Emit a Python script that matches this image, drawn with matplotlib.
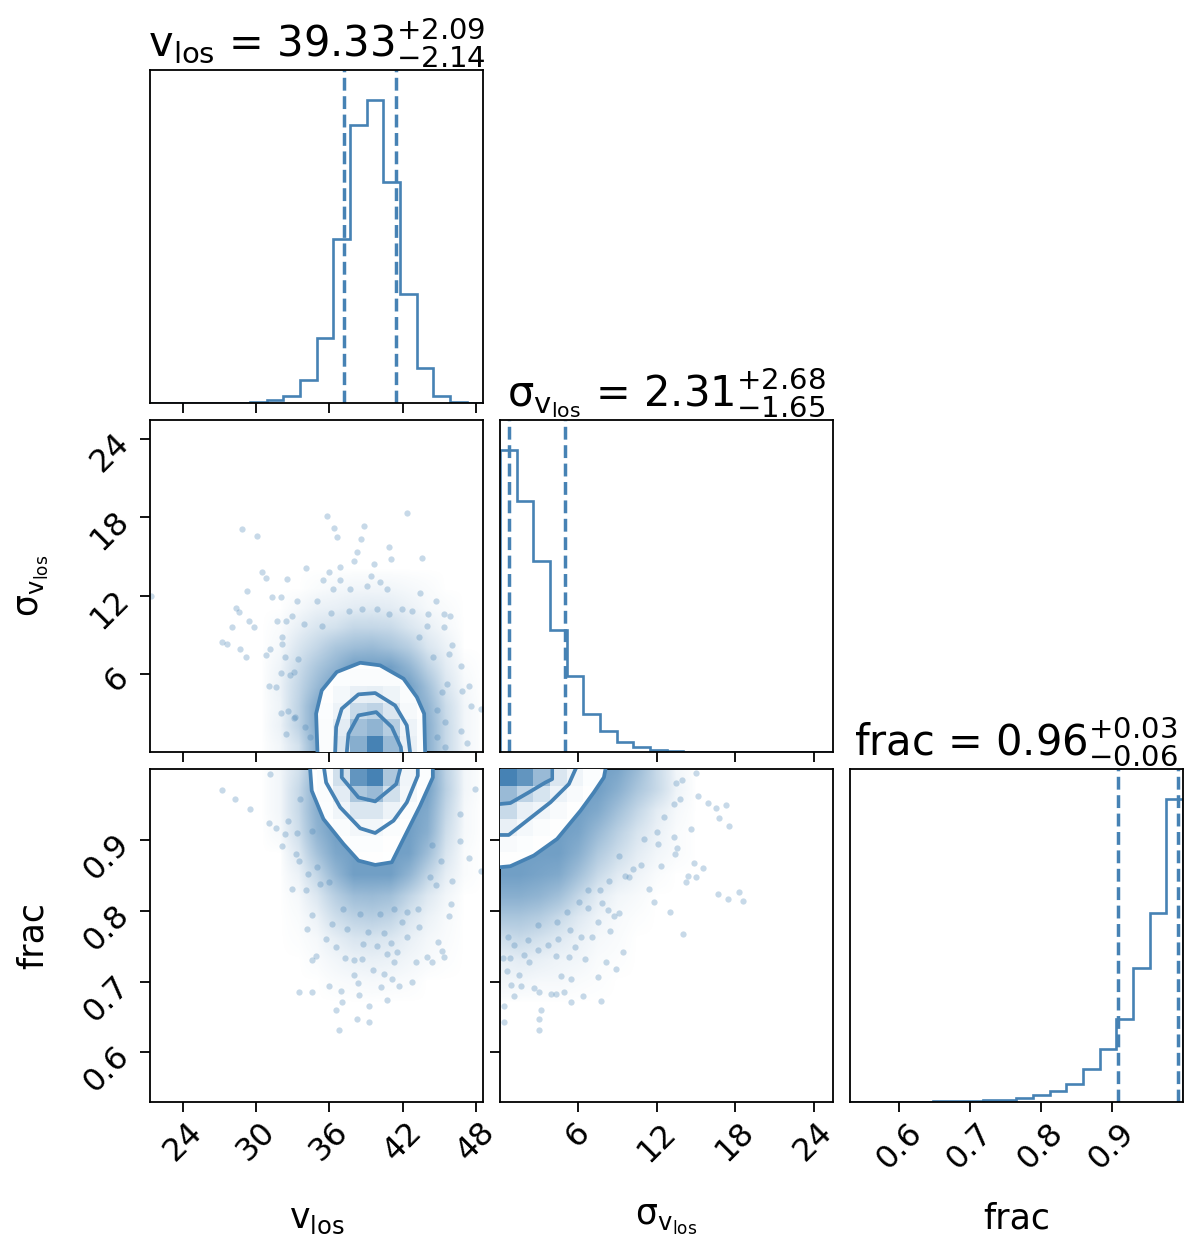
import numpy as np
import matplotlib
matplotlib.use("Agg")
import matplotlib.pyplot as plt
from matplotlib.colors import LinearSegmentedColormap, PowerNorm

color = "steelblue"

# limits of the three parameters
v_range = [21.3, 48.6]
sig_range = [0.0, 25.5]
frac_range = [0.53, 1.0]

v_ticks = [24, 30, 36, 42, 48]
sig_ticks = [6, 12, 18, 24]
frac_ticks = [0.6, 0.7, 0.8, 0.9]

v_label = r"$\mathrm{v_{los}}$"
sig_label = r"$\mathrm{\sigma_{v_{los}}}$"
frac_label = "frac"

v_title = r"$\mathrm{v_{los}}$ = ${39.33}_{-2.14}^{+2.09}$"
sig_title = r"$\mathrm{\sigma_{v_{los}}}$ = ${2.31}_{-1.65}^{+2.68}$"
frac_title = r"frac = ${0.96}_{-0.06}^{+0.03}$"

v_quantiles = [37.19, 41.42]
sig_quantiles = [0.66, 4.99]
frac_quantiles = [0.908, 0.9925]

# 1d histograms, 20 bins each
v_hist = [0, 0, 0.5, 0.5, 1, 1, 2, 8, 20, 68, 196, 492, 834, 908, 663, 326, 104, 22, 3, 1]
sig_hist = [908, 754, 575, 368, 228, 115, 65, 32, 15, 7, 4, 2, 2, 1, 1, 0.5, 0.5, 0, 0, 0]
frac_hist = [0, 0, 0, 1, 1, 2, 3, 4, 5, 6, 11, 22, 32, 53, 100, 158, 250, 402, 567, 908]

# central 2d histogram cells
vs_cells = [[0.03, 0.2, 0.65, 1.0, 0.55, 0.12, 0.02],
            [0.03, 0.15, 0.5, 0.6, 0.4, 0.1, 0.02],
            [0.02, 0.1, 0.3, 0.35, 0.2, 0.05, 0.01],
            [0.01, 0.06, 0.12, 0.13, 0.09, 0.03, 0.01],
            [0.0, 0.02, 0.03, 0.03, 0.03, 0.01, 0.0],
            [0.0, 0.0, 0.01, 0.01, 0.01, 0.0, 0.0]]
vf_cells = [[0.0, 0.0, 0.01, 0.01, 0.005, 0.0, 0.0],
            [0.0, 0.01, 0.02, 0.02, 0.01, 0.0, 0.0],
            [0.01, 0.03, 0.07, 0.07, 0.03, 0.01, 0.0],
            [0.02, 0.08, 0.2, 0.2, 0.1, 0.03, 0.01],
            [0.03, 0.15, 0.45, 0.55, 0.25, 0.07, 0.01],
            [0.03, 0.25, 0.85, 1.0, 0.45, 0.08, 0.02]]
sf_cells = [[0.01, 0.01, 0.0, 0.0, 0.0, 0.0],
            [0.04, 0.02, 0.01, 0.0, 0.0, 0.0],
            [0.12, 0.06, 0.03, 0.01, 0.0, 0.0],
            [0.3, 0.12, 0.08, 0.04, 0.01, 0.0],
            [0.55, 0.35, 0.22, 0.1, 0.04, 0.01],
            [1.0, 0.85, 0.55, 0.2, 0.08, 0.02]]

# density of the point cloud, read on coarse grids
cloud_v = [30.5, 32, 33.5, 35, 36.5, 38, 39.5, 41, 42.5, 44, 45.5, 47, 48.5]
cloud_sig = [0.5, 2, 3.5, 5, 6.5, 8, 9.5, 11, 12.5, 14]
cloud_frac = [0.67, 0.70, 0.73, 0.76, 0.79, 0.82, 0.85, 0.88, 0.91, 0.94, 0.97, 1.0]
cloud_sig2 = [0, 1.5, 3, 4.5, 6, 7.5, 9, 10.5, 12, 13.5, 15]

vs_cloud = [[0.0, 0.03, 0.15, 0.55, 0.7, 0.7, 0.7, 0.7, 0.7, 0.55, 0.2, 0.03, 0.0],
            [0.0, 0.05, 0.25, 0.6, 0.7, 0.7, 0.7, 0.7, 0.7, 0.55, 0.2, 0.03, 0.0],
            [0.0, 0.04, 0.25, 0.6, 0.7, 0.7, 0.7, 0.7, 0.7, 0.5, 0.18, 0.03, 0.0],
            [0.0, 0.05, 0.22, 0.45, 0.7, 0.7, 0.7, 0.7, 0.7, 0.4, 0.12, 0.02, 0.0],
            [0.0, 0.04, 0.18, 0.35, 0.5, 0.7, 0.7, 0.7, 0.5, 0.25, 0.08, 0.01, 0.0],
            [0.0, 0.02, 0.12, 0.22, 0.35, 0.42, 0.45, 0.38, 0.28, 0.12, 0.05, 0.0, 0.0],
            [0.0, 0.01, 0.06, 0.12, 0.15, 0.22, 0.22, 0.2, 0.12, 0.06, 0.02, 0.0, 0.0],
            [0.0, 0.0, 0.02, 0.05, 0.06, 0.08, 0.09, 0.08, 0.05, 0.02, 0.01, 0.0, 0.0],
            [0.0, 0.0, 0.0, 0.01, 0.02, 0.03, 0.03, 0.03, 0.02, 0.01, 0.0, 0.0, 0.0],
            [0.0, 0.0, 0.0, 0.0, 0.0, 0.0, 0.0, 0.0, 0.0, 0.0, 0.0, 0.0, 0.0]]
vf_cloud = [[0.0, 0.0, 0.0, 0.0, 0.0, 0.0, 0.0, 0.0, 0.0, 0.0, 0.0, 0.0, 0.0],
            [0.0, 0.0, 0.0, 0.0, 0.01, 0.015, 0.02, 0.015, 0.01, 0.0, 0.0, 0.0, 0.0],
            [0.0, 0.0, 0.0, 0.01, 0.03, 0.05, 0.06, 0.05, 0.03, 0.015, 0.005, 0.0, 0.0],
            [0.0, 0.0, 0.005, 0.02, 0.07, 0.12, 0.13, 0.11, 0.06, 0.025, 0.01, 0.0, 0.0],
            [0.0, 0.0, 0.01, 0.05, 0.17, 0.25, 0.28, 0.24, 0.12, 0.05, 0.015, 0.0, 0.0],
            [0.0, 0.0, 0.02, 0.11, 0.28, 0.42, 0.44, 0.4, 0.24, 0.1, 0.03, 0.0, 0.0],
            [0.0, 0.0, 0.05, 0.22, 0.48, 0.7, 0.7, 0.7, 0.5, 0.24, 0.07, 0.01, 0.0],
            [0.0, 0.0, 0.1, 0.38, 0.62, 0.7, 0.7, 0.7, 0.68, 0.42, 0.12, 0.01, 0.0],
            [0.0, 0.02, 0.17, 0.5, 0.7, 0.7, 0.7, 0.7, 0.7, 0.55, 0.17, 0.02, 0.0],
            [0.0, 0.03, 0.2, 0.55, 0.7, 0.7, 0.7, 0.7, 0.7, 0.6, 0.22, 0.02, 0.0],
            [0.0, 0.03, 0.2, 0.55, 0.7, 0.7, 0.7, 0.7, 0.7, 0.68, 0.27, 0.03, 0.0],
            [0.0, 0.03, 0.15, 0.45, 0.7, 0.7, 0.7, 0.7, 0.7, 0.7, 0.25, 0.03, 0.0]]
sf_cloud = [[0.0, 0.0, 0.0, 0.0, 0.0, 0.0, 0.0, 0.0, 0.0, 0.0, 0.0],
            [0.03, 0.03, 0.02, 0.02, 0.01, 0.005, 0.0, 0.0, 0.0, 0.0, 0.0],
            [0.06, 0.08, 0.06, 0.04, 0.03, 0.01, 0.005, 0.0, 0.0, 0.0, 0.0],
            [0.17, 0.2, 0.15, 0.1, 0.05, 0.02, 0.01, 0.0, 0.0, 0.0, 0.0],
            [0.35, 0.35, 0.3, 0.2, 0.1, 0.04, 0.015, 0.005, 0.0, 0.0, 0.0],
            [0.55, 0.55, 0.5, 0.4, 0.22, 0.08, 0.03, 0.015, 0.0, 0.0, 0.0],
            [0.7, 0.7, 0.65, 0.6, 0.4, 0.2, 0.09, 0.04, 0.01, 0.0, 0.0],
            [0.7, 0.7, 0.7, 0.7, 0.55, 0.32, 0.18, 0.08, 0.03, 0.01, 0.0],
            [0.7, 0.7, 0.7, 0.7, 0.65, 0.45, 0.27, 0.13, 0.05, 0.01, 0.0],
            [0.7, 0.7, 0.7, 0.7, 0.7, 0.6, 0.4, 0.22, 0.08, 0.02, 0.0],
            [0.7, 0.7, 0.7, 0.7, 0.7, 0.7, 0.55, 0.35, 0.2, 0.04, 0.0],
            [0.7, 0.7, 0.7, 0.7, 0.7, 0.7, 0.65, 0.45, 0.2, 0.03, 0.0]]

# contour lines
vs_outer_x = [35.02, 34.91, 35.37, 36.6, 38.52, 40.15, 42.07, 43.16, 43.76, 43.84]
vs_outer_y = [0, 2.97, 4.75, 6.16, 6.87, 6.67, 5.65, 4.24, 2.97, 0]
vs_mid_x = [36.47, 36.55, 37.01, 38.38, 39.75, 41.38, 42.34, 42.61]
vs_mid_y = [0, 1.94, 3.35, 4.45, 4.55, 3.6, 2.07, 0]
vs_in_x = [37.42, 37.56, 38.38, 39.83, 41.11, 41.85, 41.9]
vs_in_y = [0, 1.43, 2.84, 3.09, 1.94, 0.41, 0]

vf_outer_x = [34.42, 34.55, 35.51, 37.15, 38.38, 39.75, 41.11, 42.2, 43.43, 44.47, 44.47]
vf_outer_y = [1.0, 0.9695, 0.9295, 0.8943, 0.8708, 0.8647, 0.8685, 0.9061, 0.9483, 0.9882, 1.0]
vf_mid_x = [35.57, 35.73, 36.88, 38.52, 39.75, 41.25, 42.34, 43.24, 43.24]
vf_mid_y = [1.0, 0.981, 0.946, 0.9164, 0.9098, 0.9272, 0.953, 0.9906, 1.0]
vf_in_x = [37.01, 37.01, 38.38, 39.75, 41.47, 41.8]
vf_in_y = [1.0, 0.9882, 0.96, 0.9544, 0.9788, 1.0]

sf_outer_x = [0, 0.8, 2.6, 4.38, 6.17, 7.19, 7.96, 8.08]
sf_outer_y = [0.8615, 0.8629, 0.878, 0.9014, 0.9413, 0.9671, 0.9883, 1.0]
sf_mid_x = [0, 0.68, 2.08, 3.87, 5.28, 5.79]
sf_mid_y = [0.907, 0.907, 0.9273, 0.9531, 0.9789, 1.0]
sf_in_x = [0, 0.8, 2.21, 3.49, 4.0, 4.0]
sf_in_y = [0.9507, 0.9521, 0.9671, 0.9812, 0.9859, 1.0]

# single points that stand out of the cloud
vs_pts_x = [42.39, 38.81, 35.84, 36.38, 36.66, 28.87, 30.1, 38.57, 38.02, 41.03, 43.62, 40.89, 38.29,
            34.06, 30.51, 30.78, 32.56, 35.97, 36.9, 39.39, 39.66, 29.28, 28.32, 28.6, 29.41, 29.82,
            28.05, 27.23, 27.64, 28.7, 29.14, 21.38, 31.33, 32.01, 44.71, 43.43, 45.4, 45.89, 45.4,
            47.45, 48.4, 46.76, 47.31, 47.58, 46.08, 46.76, 31.14, 30.78, 31.05, 31.6, 32.01, 32.42, 33.1,
            35.02, 33.32, 32.97, 32.42, 31.74, 32.15, 32.15, 32.37, 32.01, 32.78, 33.1, 33.46, 33.92, 35.43,
            36.11, 37.61, 38.7, 39.88, 40.89, 41.98, 42.8, 44.11, 44.03, 43.35, 44.52, 45.81, 45.62, 45.21,
            46.85, 44.8, 45.48, 45.48, 44.8, 36.33, 37.69, 39.06, 40.15, 40.75, 36.87, 35.45, 33.19, 32.64,
            34.0, 34.41]
vs_pts_y = [18.36, 17.37, 18.13, 17.21, 16.47, 17.08, 16.57, 16.37, 14.68, 14.81, 14.91, 15.71, 15.32,
            14.15, 13.79, 13.38, 13.28, 13.79, 14.17, 13.53, 14.43, 12.36, 11.08, 10.73, 10.09, 9.58,
            9.58, 8.43, 8.3, 7.92, 7.28, 12.0, 11.87, 11.87, 11.62, 12.23, 10.6, 10.47, 9.63,
            5.08, 3.32, 1.68, 0.76, 3.57, 8.2, 6.64, 7.92, 7.43, 5.08, 5.0, 3.06, 1.4, 2.65,
            11.59, 11.59, 10.49, 10.09, 10.04, 8.83, 8.3, 7.3, 6.08, 5.9, 6.15, 7.17, 9.86, 9.68,
            10.67, 10.83, 10.98, 11.01, 10.62, 11.01, 10.83, 10.62, 9.68, 8.83, 7.3, 7.56, 5.26, 4.62,
            4.7, 3.22, 2.32, 0.41, 1.17, 12.54, 12.49, 12.72, 13.05, 12.54, 13.18, 13.18, 2.7, 3.2,
            1.94, 1.17]

vf_pts_x = [36.79, 38.29, 39.25, 39.25, 40.75, 36.55, 37.07, 33.51, 34.61, 35.97, 36.93, 38.43, 40.21,
            41.71, 42.8, 38.38, 39.61, 38.02, 41.16, 43.08, 45.4, 44.44, 44.03, 34.88, 34.61, 36.52,
            38.02, 41.33, 45.26, 44.91, 42.39, 35.7, 34.2, 43.35, 45.94, 34.61, 34.06, 32.97, 45.81,
            46.08, 48.4, 47.45, 46.71, 32.15, 31.6, 31.05, 27.2, 29.5, 28.3, 31.1, 32.4, 33.6, 47.9, 46.7,
            35.97, 35.23, 37.15, 38.51, 40.15, 41.25, 42.39, 43.29, 44.25, 44.74, 45.13, 44.39, 37.42, 36.25,
            39.2, 40.43, 41.93, 38.79, 39.93, 41.03, 37.28, 38.7, 40.75, 41.52, 40.43, 33.24, 33.51, 34.28,
            34.96, 32.64, 34.61, 33.32]
vf_pts_y = [0.631, 0.6474, 0.6427, 0.6662, 0.6737, 0.6601, 0.6709, 0.685, 0.685, 0.6944, 0.6864, 0.6817, 0.6925,
            0.6944, 0.6991, 0.6981, 0.716, 0.709, 0.7042, 0.7273, 0.7343, 0.7273, 0.7343, 0.7366, 0.73, 0.7484,
            0.73, 0.7277, 0.7437, 0.7554, 0.7629, 0.7601, 0.7742, 0.777, 0.8094, 0.7944, 0.8287, 0.8305, 0.7925,
            0.8423, 0.8564, 0.8751, 0.8981, 0.8916, 0.9174, 0.924, 0.97, 0.944, 0.958, 0.993, 0.908, 0.958, 0.972, 0.937,
            0.8404, 0.838, 0.8028, 0.7958, 0.7958, 0.8028, 0.7981, 0.8028, 0.8474, 0.8357, 0.8709, 0.893, 0.7747, 0.7817,
            0.77, 0.7686, 0.7841, 0.7535, 0.7503, 0.755, 0.7334, 0.7324, 0.7395, 0.7418, 0.7113, 0.8803, 0.8709, 0.8521,
            0.8615, 0.9273, 0.9132, 0.9099]

sf_pts_x = [18.61, 17.46, 16.67, 18.33, 17.56, 14.88, 15.52, 13.98, 12.99, 14.37, 15.0, 14.24, 15.13, 15.9,
            16.54, 17.3, 16.8, 14.62, 15.0, 13.76, 12.35, 11.81, 11.43, 9.41, 8.88, 7.5, 7.75, 6.35, 5.45,
            4.87, 4.69, 5.43, 3.9, 4.28, 3.0, 2.64, 3.13, 3.03, 3.03, 0.35, 0.35, 1.6, 0.86, 1.47, 0.57, 1.09,
            2.24, 0.8, 1.88, 5.71, 6.19, 7.04, 8.39, 8.11, 6.48, 5.3, 4.28, 3.72, 2.95, 9.08, 8.77, 9.59, 9.9, 9.08,
            11.05, 12.07, 13.55, 13.42, 10.79, 10.15, 8.37, 7.68, 6.78, 7.85, 8.31, 7.47, 6.73, 6.02, 5.12, 5.38,
            4.43, 4.35, 2.13, 1.11, 2.95, 0.65, 0.27, 13.3, 12.02, 12.53, 13.3, 13.93, 13.47]
sf_pts_y = [0.814, 0.8164, 0.8235, 0.8258, 0.9197, 0.868, 0.861, 0.767, 0.7976, 0.8493, 0.847, 0.84, 0.962, 0.9526,
            0.9455, 0.95, 0.9314, 0.915, 0.995, 0.9573, 0.8634, 0.8117, 0.8305, 0.7413, 0.7178, 0.706, 0.6732, 0.6803, 0.6709,
            0.686, 0.7084, 0.7037, 0.6826, 0.6826, 0.685, 0.6906, 0.66, 0.6474, 0.631, 0.666, 0.6427, 0.6944, 0.695, 0.7094, 0.7155, 0.6803,
            0.727, 0.7328, 0.7375, 0.7484, 0.7634, 0.7634, 0.7718, 0.727, 0.7315, 0.7352, 0.7366, 0.7516, 0.7446, 0.7962, 0.7925, 0.8493, 0.847, 0.8775,
            0.9009, 0.8948, 0.8892, 0.8798, 0.8643, 0.8596, 0.8422, 0.829, 0.829, 0.8103, 0.8009, 0.7845, 0.8033, 0.8127, 0.7986, 0.7727,
            0.7596, 0.7845, 0.7587, 0.7516, 0.7798, 0.7634, 0.7328, 0.9042, 0.9113, 0.9324, 0.9502, 0.985, 0.9807]

dens = LinearSegmentedColormap.from_list("dens", ["white", color])

v_edges = np.linspace(v_range[0], v_range[1], 21)
sig_edges = np.linspace(sig_range[0], sig_range[1], 21)
frac_edges = np.linspace(frac_range[0], frac_range[1], 21)

fig, axes = plt.subplots(3, 3, figsize=(12, 12.53), dpi=100)
fig.subplots_adjust(left=150 / 1200, right=1183 / 1200, top=1 - 70 / 1253, bottom=1 - 1102 / 1253,
                    wspace=0.05, hspace=0.05)

tick_size = 23
label_size = 25


def hist_panel(ax, counts, edges, quant, title, lim, ticks):
    ax.stairs(counts, edges, color=color, lw=1.9)
    for q in quant:
        ax.axvline(q, color=color, ls="dashed", lw=2.5)
    ax.set_xlim(lim)
    ax.set_ylim(0, 1.1 * max(counts))
    ax.set_yticks([])
    ax.set_xticks(ticks)
    ax.set_title(title, fontsize=30, pad=5)


def pair_panel(ax, cloud, cx, cy, px, py, cells, xe, ye, contours, corner=None):
    dx = (cx[1] - cx[0]) / 2
    dy = (cy[1] - cy[0]) / 2
    ax.imshow(cloud, origin="lower", extent=[cx[0] - dx, cx[-1] + dx, cy[0] - dy, cy[-1] + dy],
              cmap=dens, norm=PowerNorm(0.75, vmin=0, vmax=1), aspect="auto",
              interpolation="bilinear", zorder=1)
    ax.plot(px, py, "o", color=color, ms=4.5, mew=0, alpha=0.3, zorder=2)
    fx = list(contours[0][0])
    fy = list(contours[0][1])
    if corner is not None:
        fx.append(corner[0])
        fy.append(corner[1])
    poly = ax.fill(fx, fy, color="white", lw=0, zorder=3)[0]
    mesh = ax.pcolormesh(xe, ye, cells, cmap=dens, vmin=0, vmax=1, zorder=4)
    mesh.set_clip_path(poly)
    for c in contours:
        ax.plot(c[0], c[1], color=color, lw=2.7, zorder=5)


hist_panel(axes[0, 0], v_hist, v_edges, v_quantiles, v_title, v_range, v_ticks)
hist_panel(axes[1, 1], sig_hist, sig_edges, sig_quantiles, sig_title, sig_range, sig_ticks)
hist_panel(axes[2, 2], frac_hist, frac_edges, frac_quantiles, frac_title, frac_range, frac_ticks)

pair_panel(axes[1, 0], vs_cloud, cloud_v, cloud_sig, vs_pts_x, vs_pts_y, vs_cells,
           v_edges[10:18], sig_edges[0:7],
           [(vs_outer_x, vs_outer_y), (vs_mid_x, vs_mid_y), (vs_in_x, vs_in_y)])
pair_panel(axes[2, 0], vf_cloud, cloud_v, cloud_frac, vf_pts_x, vf_pts_y, vf_cells,
           v_edges[10:18], frac_edges[14:21],
           [(vf_outer_x, vf_outer_y), (vf_mid_x, vf_mid_y), (vf_in_x, vf_in_y)])
pair_panel(axes[2, 1], sf_cloud, cloud_sig2, cloud_frac, sf_pts_x, sf_pts_y, sf_cells,
           sig_edges[0:7], frac_edges[14:21],
           [(sf_outer_x, sf_outer_y), (sf_mid_x, sf_mid_y), (sf_in_x, sf_in_y)], corner=(0, 1.0))

for ax, xr, yr, xt, yt in [(axes[1, 0], v_range, sig_range, v_ticks, sig_ticks),
                           (axes[2, 0], v_range, frac_range, v_ticks, frac_ticks),
                           (axes[2, 1], sig_range, frac_range, sig_ticks, frac_ticks)]:
    ax.set_xlim(xr)
    ax.set_ylim(yr)
    ax.set_xticks(xt)
    ax.set_yticks(yt)

axes[0, 1].axis("off")
axes[0, 2].axis("off")
axes[1, 2].axis("off")

for ax in axes.flat:
    ax.tick_params(length=7, width=1.3, labelsize=tick_size)
    for s in ax.spines.values():
        s.set_linewidth(1.3)
    if ax is not axes[2, 0] and ax is not axes[2, 1] and ax is not axes[2, 2]:
        ax.set_xticklabels([])

axes[2, 1].set_yticklabels([])

for ax in [axes[2, 0], axes[2, 1], axes[2, 2]]:
    for t in ax.get_xticklabels():
        t.set_rotation(45)
for ax in [axes[1, 0], axes[2, 0]]:
    for t in ax.get_yticklabels():
        t.set_rotation(45)

axes[2, 0].set_xlabel(v_label, fontsize=label_size)
axes[2, 1].set_xlabel(sig_label, fontsize=label_size)
axes[2, 2].set_xlabel(frac_label, fontsize=label_size)
axes[1, 0].set_ylabel(sig_label, fontsize=label_size)
axes[2, 0].set_ylabel(frac_label, fontsize=label_size)
for ax in [axes[2, 0], axes[2, 1], axes[2, 2]]:
    ax.xaxis.set_label_coords(0.5, -0.3)
for ax in [axes[1, 0], axes[2, 0]]:
    ax.yaxis.set_label_coords(-0.3, 0.5)

plt.savefig("out.png", dpi=100)
